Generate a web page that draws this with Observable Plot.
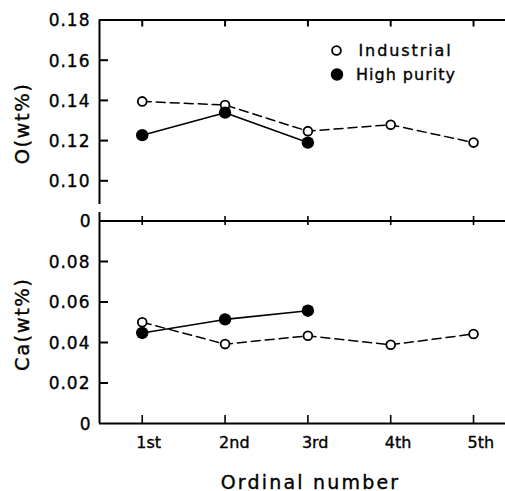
<!DOCTYPE html>
<html>
<head>
<meta charset="utf-8">
<script src="https://cdn.jsdelivr.net/npm/d3@7"></script>
<script src="https://cdn.jsdelivr.net/npm/@observablehq/plot@0.6"></script>
<style>
  body { margin: 0; background: #fff; }
  #chart { position: relative; width: 505px; height: 491px; }
  #chart svg { position: absolute; left: 0; }
</style>
</head>
<body>
<div id="chart"></div>
<script>
// Oxygen and calcium contents by melt order, industrial vs high-purity charge
const ordinals = ["1st", "2nd", "3rd", "4th", "5th"];
const series = ["Industrial", "High purity"];
const oIndustrial = [0.1395, 0.1377, 0.1247, 0.1279, 0.1190];
const oHighPurity = [0.1227, 0.1339, 0.1190];
const caIndustrial = [0.0500, 0.0392, 0.0433, 0.0389, 0.0442];
const caHighPurity = [0.0447, 0.0514, 0.0557];
const oTicks = [0.10, 0.12, 0.14, 0.16, 0.18];
const oZero = 0.08;            // where the broken O axis restarts at 0
const caTicks = [0, 0.02, 0.04, 0.06, 0.08];
const oLabel = "O(wt%)";
const caLabel = "Ca(wt%)";
const xLabel = "Ordinal number";

const W = 505, ML = 99, MR = 0;
const plotW = W - ML - MR;
const xDomain = [0.484, 5.386];
const oDomain = [oZero, 0.18];
const caDomain = [0, 0.10];
const ink = "black";
const font = "DejaVu Sans";
const positions = ordinals.map((_, i) => i + 1);
const textInk = {fill: ink, stroke: ink, strokeWidth: 0.35};

const rows = (vals) => vals.map((v, i) => ({n: i + 1, v}));
const mid = ([a, b]) => (a + b) / 2;

function seriesMarks(ind, high) {
  return [
    Plot.line(rows(ind), {x: "n", y: "v", stroke: ink, strokeWidth: 1.5, strokeDasharray: "9,5"}),
    Plot.line(rows(high), {x: "n", y: "v", stroke: ink, strokeWidth: 1.6}),
    Plot.dot(rows(ind), {x: "n", y: "v", r: 4.4, fill: "white", stroke: ink, strokeWidth: 1.8}),
    Plot.dot(rows(high), {x: "n", y: "v", r: 6.2, fill: ink, stroke: "none"})
  ];
}

const baseStyle = {background: "transparent", overflow: "visible", fontFamily: font, color: ink};

// tick labels left of the axis and the rotated axis title
const yTickText = (ticks, fmt) => Plot.text(ticks, {y: d => d, text: fmt, frameAnchor: "left", textAnchor: "end", lineAnchor: "middle", dx: -9, dy: 1, fontSize: 17, ...textInk});
const yTitle = (label, y, dy) => Plot.text([label], {y: () => y, frameAnchor: "left", textAnchor: "middle", lineAnchor: "middle", dx: -77, dy, rotate: -90, fontSize: 19.5, ...textInk});

// ---- upper panel: O content, broken axis ----
const topH = 230, topMT = 19.5, topMB = 9.5;
const topPlotH = topH - topMT - topMB;
const oBreak = [{lo: oZero, hi: 0.0842}, {lo: 0.0882, hi: 0.18}];

const oPlot = Plot.plot({
  width: W, height: topH,
  marginLeft: ML, marginRight: MR, marginTop: topMT, marginBottom: topMB,
  style: baseStyle,
  x: {domain: xDomain, axis: null},
  y: {domain: oDomain, axis: null},
  marks: [
    Plot.ruleY([0.18], {stroke: ink, strokeWidth: 2}),
    Plot.ruleY([oZero], {stroke: ink, strokeWidth: 2}),
    Plot.ruleX(oBreak, {x: () => xDomain[0], y1: "lo", y2: "hi", stroke: ink, strokeWidth: 2}),
    Plot.tickY(oTicks.filter(t => t < 0.18), {y: d => d, insetRight: plotW - 9, stroke: ink, strokeWidth: 2}),
    Plot.tickX(positions, {x: d => d, insetBottom: topPlotH - 7, stroke: ink, strokeWidth: 2}),
    Plot.tickX(positions, {x: d => d, insetTop: topPlotH - 4.5, insetBottom: -4.5, stroke: ink, strokeWidth: 1.6}),
    yTickText(oTicks, d => d.toFixed(2)),
    yTickText([oZero], () => "0"),
    yTitle(oLabel, 0.1285, 0),
    ...seriesMarks(oIndustrial, oHighPurity),
    // legend
    Plot.dot([series[0]], {frameAnchor: "top-left", dx: 237, dy: 30.5, r: 4.4, fill: "white", stroke: ink, strokeWidth: 1.8}),
    Plot.dot([series[1]], {frameAnchor: "top-left", dx: 237.5, dy: 54.5, r: 6.2, fill: ink, stroke: "none"}),
    Plot.text([series[0]], {frameAnchor: "top-left", textAnchor: "start", lineAnchor: "middle", dx: 259, dy: 31, fontSize: 16, ...textInk}),
    Plot.text([series[1]], {frameAnchor: "top-left", textAnchor: "start", lineAnchor: "middle", dx: 256.5, dy: 54.5, fontSize: 16, ...textInk})
  ]
});
oPlot.style.top = "0px";

// ---- lower panel: Ca content ----
const botTop = 210, botH = 281, botMT = 10.5, botMB = 68;
const botPlotH = botH - botMT - botMB;

const caPlot = Plot.plot({
  width: W, height: botH,
  marginLeft: ML, marginRight: MR, marginTop: botMT, marginBottom: botMB,
  style: baseStyle,
  x: {domain: xDomain, axis: null},
  y: {domain: caDomain, axis: null},
  marks: [
    Plot.ruleY([0], {stroke: ink, strokeWidth: 2}),
    Plot.ruleX([{lo: 0, hi: 0.10}], {x: () => xDomain[0], y1: "lo", y2: "hi", stroke: ink, strokeWidth: 2}),
    Plot.tickY(caTicks.filter(t => t > 0), {y: d => d, insetRight: plotW - 9, stroke: ink, strokeWidth: 2}),
    Plot.tickX(positions, {x: d => d, insetTop: botPlotH - 8, stroke: ink, strokeWidth: 1.6}),
    yTickText(caTicks, d => d === 0 ? "0" : d.toFixed(2)),
    yTitle(caLabel, mid(caDomain), 2),
    Plot.text(ordinals, {x: (d, i) => positions[i], text: d => d, frameAnchor: "bottom", textAnchor: "start", lineAnchor: "bottom", dx: -6, dy: 24.5, fontSize: 16, ...textInk}),
    Plot.text([xLabel], {frameAnchor: "bottom", textAnchor: "middle", lineAnchor: "bottom", dx: 8, dy: 65, fontSize: 19, ...textInk}),
    ...seriesMarks(caIndustrial, caHighPurity)
  ]
});
caPlot.style.top = botTop + "px";

// letter spacing of the typeset labels
const spacing = new Map([[series[0], "1.9px"], [series[1], "1px"], [oLabel, "1.5px"], [caLabel, "1.5px"], [xLabel, "2.2px"]]);
for (const svg of [oPlot, caPlot]) {
  svg.querySelectorAll("text").forEach(t => {
    const s = t.textContent;
    if (spacing.has(s)) t.setAttribute("letter-spacing", spacing.get(s));
    else if (/^0\.\d\d$/.test(s)) t.setAttribute("letter-spacing", "1px");
  });
}

document.getElementById("chart").append(oPlot, caPlot);
</script>
</body>
</html>
